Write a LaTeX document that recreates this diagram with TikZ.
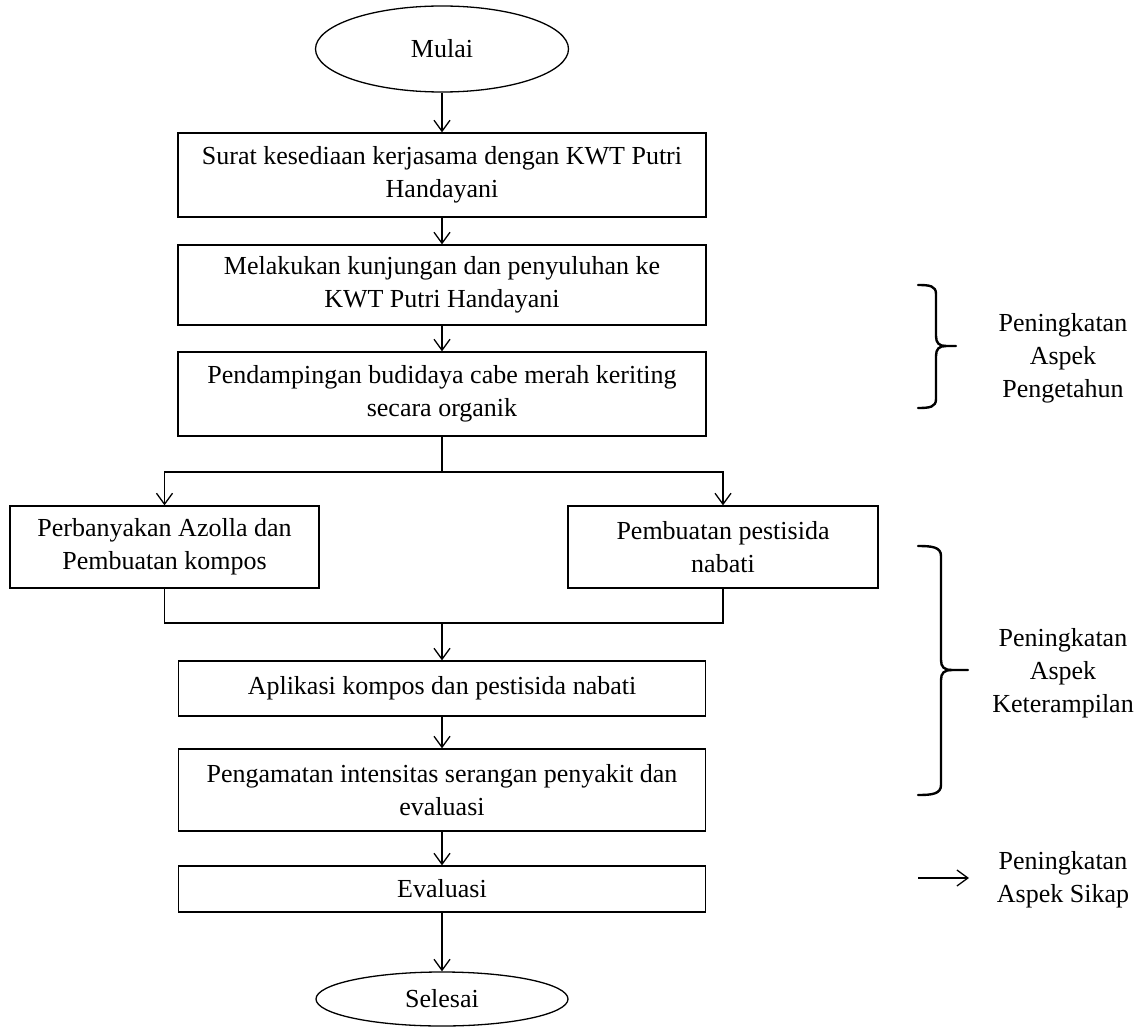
\documentclass[tikz,border=0pt]{standalone}
\usepackage{fontspec}
\setmainfont{Liberation Serif}
\usetikzlibrary{shapes.geometric,arrows.meta}
\begin{document}
\begin{tikzpicture}[x=1pt,y=-1pt,
  every node/.style={font=\fontsize{26}{33}\selectfont},
  box/.style={draw,line width=1.3pt,rectangle,inner sep=0pt,align=center},
  term/.style={draw,line width=1.3pt,ellipse,inner sep=0pt},
  lbl/.style={align=center,inner sep=0pt},
  conn/.style={line width=1.3pt},
  arr/.style={conn,-{Straight Barb[length=11pt,width=16pt,line width=1.3pt]}},
  brace/.style={line width=2.4pt,line cap=round}]
\useasboundingbox (0,0) rectangle (1143,1027);
\fill[white] (0,0) rectangle (1143,1027);

\node[term,minimum width=253pt,minimum height=86pt] (mulai) at (442,49) {Mulai};
\node[box,minimum width=528pt,minimum height=84pt] (b1) at (442,175) {Surat kesediaan kerjasama dengan KWT Putri\\Handayani};
\node[box,minimum width=528pt,minimum height=80pt] (b2) at (442,285) {Melakukan kunjungan dan penyuluhan ke\\KWT Putri Handayani};
\node[box,minimum width=528pt,minimum height=84pt] (b3) at (442,394) {Pendampingan budidaya cabe merah keriting\\secara organik};
\node[box,minimum width=309pt,minimum height=82pt] (left) at (164.5,547) {Perbanyakan Azolla dan\\Pembuatan kompos};
\node[box,minimum width=310pt,minimum height=82pt] (right) at (723,547) {Pembuatan pestisida\\nabati};
\node[box,minimum width=527pt,minimum height=55pt] (apl) at (442,688.5) {Aplikasi kompos dan pestisida nabati};
\node[box,minimum width=527pt,minimum height=82pt] (peng) at (442,790) {Pengamatan intensitas serangan penyakit dan\\evaluasi};
\node[box,minimum width=527pt,minimum height=46pt] (eval) at (442,889) {Evaluasi};
\node[term,minimum width=252pt,minimum height=54pt] (selesai) at (442,999) {Selesai};

\draw[arr] (mulai.south) -- (b1.north);
\draw[arr] (b1.south) -- (b2.north);
\draw[arr] (b2.south) -- (b3.north);
\coordinate (split) at (442,472);
\draw[conn] (b3.south) -- (split);
\draw[arr] (split) -| (left.north);
\draw[arr] (split) -| (right.north);
\coordinate (merge) at (442,623);
\draw[conn] (left.south) |- (merge) -| (right.south);
\draw[arr] (merge) -- (apl.north);
\draw[arr] (apl.south) -- (peng.north);
\draw[arr] (peng.south) -- (eval.north);
\draw[arr] (eval.south) -- (selesai.north);

% brace 1
\draw[brace] (918,285) .. controls (930,285) and (936,286) .. (936,294)
  -- (936,336) .. controls (936,343) and (939,346) .. (946,346) -- (956,346);
\draw[brace] (918,408) .. controls (930,408) and (936,407) .. (936,399)
  -- (936,356) .. controls (936,349) and (939,346) .. (946,346);
\node[lbl] (pengetahuan) at (1063,358) {Peningkatan\\Aspek\\Pengetahun};

% brace 2
\draw[brace] (918,546) .. controls (932,546) and (941,547) .. (941,556)
  -- (941,660) .. controls (941,667) and (944,670) .. (952,670) -- (968,670);
\draw[brace] (918,795) .. controls (932,795) and (941,794) .. (941,785)
  -- (941,680) .. controls (941,673) and (944,670) .. (952,670);
\node[lbl] (keterampilan) at (1063,673) {Peningkatan\\Aspek\\Keterampilan};

% attitude
\coordinate (sa1) at (918,878);
\coordinate (sa2) at (969,878);
\draw[arr] (sa1) -- (sa2);
\node[lbl] (sikap) at (1063,880) {Peningkatan\\Aspek Sikap};
\end{tikzpicture}
\end{document}
